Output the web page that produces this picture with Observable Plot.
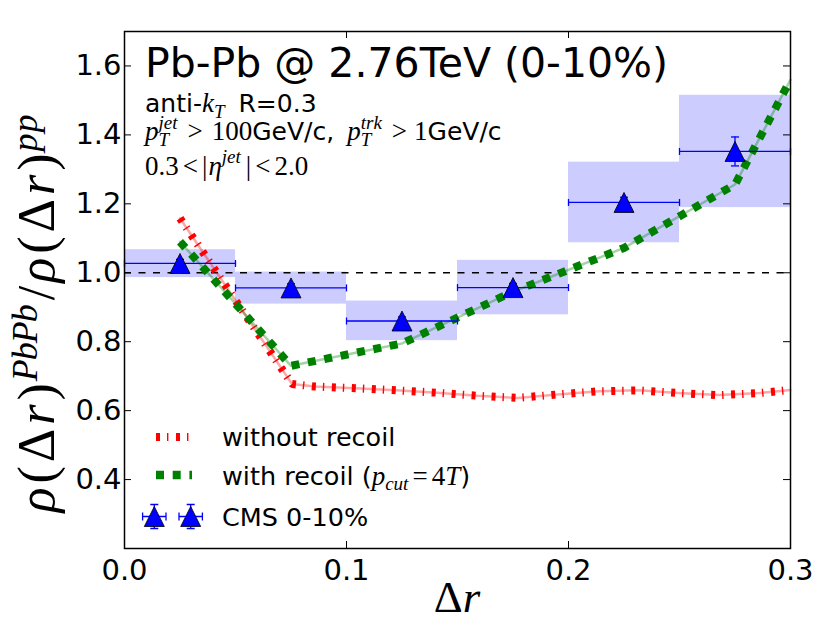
<!DOCTYPE html>
<html><head><meta charset="utf-8">
<script src="https://cdn.jsdelivr.net/npm/d3@7"></script>
<script src="https://cdn.jsdelivr.net/npm/@observablehq/plot@0.6"></script>
<style>html,body{margin:0;padding:0;background:#fff}</style>
</head><body><div id="chart"></div>
<script>
// ---- data ----
const binLo = [0.00, 0.05, 0.10, 0.15, 0.20, 0.25];
const binHi = [0.05, 0.10, 0.15, 0.20, 0.25, 0.30];
const cmsR = [0.025, 0.075, 0.125, 0.175, 0.225, 0.275];
const cmsRatio = [1.027, 0.956, 0.860, 0.957, 1.204, 1.352];
const cmsStat = [0.012, 0.012, 0.012, 0.012, 0.015, 0.042];
const sysLo = [0.986, 0.909, 0.803, 0.878, 1.087, 1.189];
const sysHi = [1.067, 1.002, 0.918, 1.036, 1.321, 1.515];

const noRecoilR = [0.025, 0.0755, 0.0857, 0.1041, 0.1224, 0.1408, 0.1592, 0.1770, 0.1951, 0.2135, 0.2318, 0.2494, 0.2678, 0.2862, 0.3000];
const noRecoilRatio = [1.158, 0.677, 0.670, 0.665, 0.659, 0.652, 0.643, 0.637, 0.647, 0.656, 0.659, 0.651, 0.645, 0.651, 0.660];

const recoilR = [0.025, 0.075, 0.125, 0.175, 0.225, 0.275, 0.300];
const recoilRatio = [1.090, 0.730, 0.795, 0.945, 1.072, 1.256, 1.560];

const xTicks = [0.0, 0.1, 0.2, 0.3];
const yTicks = [0.4, 0.6, 0.8, 1.0, 1.2, 1.4, 1.6];

// ---- tables ----
const cms = cmsR.map((r, i) => ({r, v: cmsRatio[i], e: cmsStat[i], lo: binLo[i], hi: binHi[i], sLo: sysLo[i], sHi: sysHi[i]}));
const noRecoil = noRecoilR.map((r, i) => ({r, v: noRecoilRatio[i]}));
const recoil = recoilR.map((r, i) => ({r, v: recoilRatio[i]}));

const W = 830, H = 623, mL = 124, mR = 40, mT = 31, mB = 75;
const fw = W - mL - mR, fh = H - mT - mB, tk = 7;
const TICKFONT = 29;

const tri = {draw(ctx, size) { const h = Math.sqrt(size / Math.PI); ctx.moveTo(0, -h); ctx.lineTo(-h, h); ctx.lineTo(h, h); ctx.closePath(); }};
const vbar = {draw(ctx, size) { const h = Math.sqrt(size / Math.PI); ctx.moveTo(0, -h); ctx.lineTo(0, h); }};
const hbar = {draw(ctx, size) { const h = Math.sqrt(size / Math.PI); ctx.moveTo(-h, 0); ctx.lineTo(h, 0); }};

const svg = Plot.plot({
  width: W, height: H,
  marginLeft: mL, marginRight: mR, marginTop: mT, marginBottom: mB,
  style: {fontFamily: "'DejaVu Sans', sans-serif", fontSize: TICKFONT + "px", background: "white", color: "black"},
  x: {domain: [0, 0.3]},
  y: {domain: [0.2, 1.7]},
  marks: [
    Plot.rect(cms, {x1: "lo", x2: "hi", y1: "sLo", y2: "sHi", fill: "blue", fillOpacity: 0.2}),
    Plot.ruleY([1.0], {stroke: "black", strokeWidth: 1.3, strokeDasharray: "7,7.5"}),
    Plot.line(noRecoil, {x: "r", y: "v", stroke: "red", strokeOpacity: 0.35, strokeWidth: 2.5}),
    Plot.line(noRecoil, {x: "r", y: "v", stroke: "red", strokeWidth: 8, strokeDasharray: "4,7,1.4,7.6", strokeLinecap: "butt", strokeLinejoin: "miter"}),
    Plot.line(recoil, {x: "r", y: "v", stroke: "green", strokeOpacity: 0.35, strokeWidth: 2.5}),
    Plot.line(recoil, {x: "r", y: "v", stroke: "green", strokeWidth: 8, strokeDasharray: "8,8.7", strokeLinecap: "butt", strokeLinejoin: "miter"}),
    Plot.ruleY(cms, {x1: "lo", x2: "hi", y: "v", stroke: "blue", strokeWidth: 1.3}),
    Plot.dot(cms, {x: "lo", y: "v", symbol: vbar, r: 3.5, stroke: "blue", fill: "none", strokeWidth: 1.3}),
    Plot.dot(cms, {x: "hi", y: "v", symbol: vbar, r: 3.5, stroke: "blue", fill: "none", strokeWidth: 1.3}),
    Plot.ruleX(cms, {x: "r", y1: d => d.v - d.e, y2: d => d.v + d.e, stroke: "blue", strokeWidth: 1.3}),
    Plot.dot(cms, {x: "r", y: d => d.v + d.e, symbol: hbar, r: 4, stroke: "blue", fill: "none", strokeWidth: 1.3}),
    Plot.dot(cms, {x: "r", y: d => d.v - d.e, symbol: hbar, r: 4, stroke: "blue", fill: "none", strokeWidth: 1.3}),
    Plot.dot(cms, {x: "r", y: "v", symbol: tri, r: 10, fill: "blue", stroke: "black", strokeWidth: 0.8}),
    // inward ticks on all four sides
    Plot.ruleY(yTicks, {insetRight: fw - tk, stroke: "black", strokeWidth: 1}),
    Plot.ruleY(yTicks, {insetLeft: fw - tk, stroke: "black", strokeWidth: 1}),
    Plot.ruleX(xTicks, {insetTop: fh - tk, stroke: "black", strokeWidth: 1}),
    Plot.ruleX(xTicks, {insetBottom: fh - tk, stroke: "black", strokeWidth: 1}),
    Plot.frame({stroke: "black", strokeWidth: 1.5}),
    Plot.axisX({ticks: xTicks, tickSize: 0, tickPadding: 11, tickFormat: d => d.toFixed(1), fontSize: TICKFONT, label: null}),
    Plot.axisY({ticks: yTicks, tickSize: 0, tickPadding: 3, tickFormat: d => d.toFixed(1), fontSize: TICKFONT, label: null})
  ]
});
document.getElementById("chart").append(svg);
const root = d3.select(svg);
root.selectAll("g[aria-label='x-axis tick label'] text, g[aria-label='y-axis tick label'] text")
  .style("font-size", TICKFONT + "px").style("font-family", "'DejaVu Sans', sans-serif");

// ---- rich text helper (real SVG text, laid out piece by piece) ----
const FAM = {s: "'DejaVu Sans', sans-serif", m: "'Liberation Serif', serif"};
function rich(parent, x, y, parts, opt = {}) {
  const g = parent.append("g").attr("transform", `translate(${x},${y})` + (opt.rotate ? ` rotate(${opt.rotate})` : ""))
    .attr("text-anchor", "start");
  let cx = 0;
  for (const p of parts) {
    if (p.gap !== undefined) { cx += p.gap; continue; }
    const items = p.stack || [p];
    let w = 0;
    for (const it of items) {
      const t = g.append("text").attr("x", cx).attr("y", it.dy || 0)
        .attr("text-anchor", "start")
        .attr("font-family", FAM[it.f || "s"])
        .style("font-size", it.size + "px")
        .attr("font-style", it.it ? "italic" : "normal")
        .attr("fill", "black")
        .style("white-space", "pre")
        .text(it.t);
      if (it.ls) t.attr("letter-spacing", it.ls);
      w = Math.max(w, t.node().getComputedTextLength());
    }
    cx += w;
  }
  if (opt.anchor === "middle") g.selectAll("text").each(function () { this.setAttribute("x", +this.getAttribute("x") - cx / 2); });
  return g;
}

// title + annotation
rich(root, 145, 77, [{t: "Pb-Pb @ 2.76TeV (0-10%)", size: 41}]);
const AS = 25, A = 27, a = 19;
rich(root, 145, 112, [
  {t: "anti-", size: AS},
  {t: "k", f: "m", it: true, size: A},
  {t: "T", f: "m", it: true, size: a, dy: 5.5},
  {gap: 14},
  {t: "R=0.3", size: AS}
]);
rich(root, 145, 140, [
  {t: "p", f: "m", it: true, size: A},
  {stack: [{t: "T", f: "m", it: true, size: a, dy: 6}, {t: "jet", f: "m", it: true, size: a, dy: -11.5}]},
  {gap: 10}, {t: ">", f: "m", size: A}, {gap: 9}, {t: "100", f: "m", size: A},
  {t: "GeV/c,", size: AS}, {gap: 13},
  {t: "p", f: "m", it: true, size: A},
  {stack: [{t: "T", f: "m", it: true, size: a, dy: 6}, {t: "trk", f: "m", it: true, size: a, dy: -11.5}]},
  {gap: 10}, {t: ">", f: "m", size: A}, {gap: 7}, {t: "1", f: "m", size: A},
  {t: "GeV/c", size: AS}
]);
rich(root, 145, 175, [
  {t: "0.3", f: "m", size: A}, {gap: 4}, {t: "<", f: "m", size: A}, {gap: 4},
  {t: "|", f: "m", size: A}, {gap: 1}, {t: "η", f: "m", it: true, size: A},
  {t: "jet", f: "m", it: true, size: a, dy: -12}, {gap: 5},
  {t: "|", f: "m", size: A}, {gap: 4}, {t: "<", f: "m", size: A}, {gap: 4},
  {t: "2.0", f: "m", size: A}
]);

// axis labels
const S = 52, s = 36, up = -17;
rich(root, 54, 313, [
  {t: "ρ", f: "m", it: true, size: S, ls: 4}, {t: "(Δ", f: "m", size: S, ls: 4}, {t: "r", f: "m", it: true, size: S, ls: 4}, {t: ")", f: "m", size: S},
  {gap: 2}, {t: "PbPb", f: "m", it: true, size: s, dy: up, ls: -1},
  {gap: 5}, {t: "/", f: "m", size: S}, {gap: 3},
  {t: "ρ", f: "m", it: true, size: S, ls: 4}, {t: "(Δ", f: "m", size: S, ls: 4}, {t: "r", f: "m", it: true, size: S, ls: 4}, {t: ")", f: "m", size: S},
  {gap: 2}, {t: "pp", f: "m", it: true, size: s, dy: up, ls: 1}
], {rotate: -90, anchor: "middle"});
rich(root, 457, 612, [{t: "Δ", f: "m", size: 45}, {t: "r", f: "m", it: true, size: 45}], {anchor: "middle"});

// legend
const lg = root.append("g");
lg.append("line").attr("x1", 156).attr("x2", 189).attr("y1", 437).attr("y2", 437)
  .attr("stroke", "red").attr("stroke-width", 8).attr("stroke-dasharray", "4,7,1.4,7.6");
lg.append("line").attr("x1", 156).attr("x2", 192).attr("y1", 475).attr("y2", 475)
  .attr("stroke", "green").attr("stroke-width", 8.5).attr("stroke-dasharray", "8,8.7");
for (const cx of [154.3, 190.7]) {
  const cy = 516.5;
  const p = d3.path();
  p.moveTo(cx - 11.7, cy); p.lineTo(cx + 11.7, cy);
  p.moveTo(cx - 11.7, cy - 4); p.lineTo(cx - 11.7, cy + 4);
  p.moveTo(cx + 11.7, cy - 4); p.lineTo(cx + 11.7, cy + 4);
  p.moveTo(cx, cy - 12); p.lineTo(cx, cy + 12);
  p.moveTo(cx - 4, cy - 12); p.lineTo(cx + 4, cy - 12);
  p.moveTo(cx - 4, cy + 12); p.lineTo(cx + 4, cy + 12);
  lg.append("path").attr("d", p.toString()).attr("stroke", "blue").attr("stroke-width", 1.3).attr("fill", "none");
  lg.append("path").attr("d", `M${cx},${cy - 10}L${cx - 10},${cy + 10}L${cx + 10},${cy + 10}Z`)
    .attr("fill", "blue").attr("stroke", "black").attr("stroke-width", 0.8);
}
const L = 25.5, LM = 27;
rich(lg, 222, 446, [{t: "without recoil", size: L}]);
rich(lg, 222, 484.5, [
  {t: "with recoil (", size: L},
  {t: "p", f: "m", it: true, size: LM},
  {t: "cut", f: "m", it: true, size: 19, dy: 5.5},
  {gap: 4}, {t: "=", f: "m", size: LM}, {gap: 4},
  {t: "4", f: "m", size: LM}, {t: "T", f: "m", it: true, size: LM},
  {t: ")", size: L}
]);
rich(lg, 222, 525.5, [{t: "CMS 0-10%", size: L}]);
</script>
</body></html>
